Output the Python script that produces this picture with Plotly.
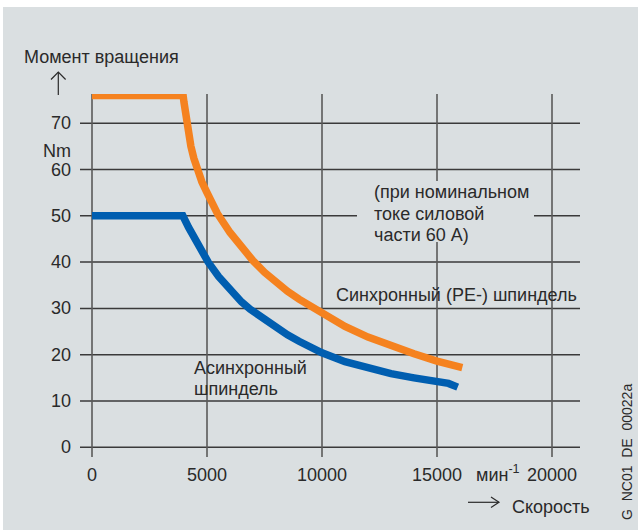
import plotly.graph_objects as go

# ---- data ----
sync_speed = [0, 3960, 4000, 4050, 4100, 4200, 4300, 4430, 4565, 4780, 5000, 5450, 6000,
              6500, 7000, 7500, 8000, 8500, 9000, 9500, 10000, 11000, 12000, 13000,
              14000, 15000, 16100]
sync_torque = [76, 76, 74.5, 72.5, 70.5, 67.6, 65, 62.4, 60, 57.3, 55, 50.5, 46.4,
               43.2, 40.3, 37.8, 35.6, 33.7, 32, 30.5, 29.1, 26.1, 23.8, 21.9,
               20.2, 18.6, 17.2]
async_speed = [0, 3950, 4200, 4500, 4800, 5050, 5500, 6000, 6500, 6880, 7500, 8000,
               8500, 9000, 9500, 10000, 11000, 12000, 13000, 14000, 15000, 15500, 15900]
async_torque = [50, 50, 47.5, 44.6, 42, 40, 36.9, 33.9, 31.4, 29.8, 27.6, 25.9,
                24.3, 22.9, 21.6, 20.4, 18.5, 17.0, 15.9, 15.0, 14.3, 13.8, 13.0]
x_ticks = [0, 5000, 10000, 15000, 20000]
x_tick_labels = ["0", "5000", "10000", "15000", "20000"]
y_ticks = [0, 10, 20, 30, 40, 50, 60, 70]
y_tick_labels = ["0", "10", "20", "30", "40", "50", "60", "70"]

ORANGE = "#f5821f"
BLUE = "#005eb0"
BG = "#dadfe1"
TXT = "#2a2a2a"
FONT = "Liberation Sans, Arial, sans-serif"

# plot area in pixels: x 80..580, y 94..457
L, R, T, B = 80, 580, 94, 457
W, H = R - L, B - T

def px(x):
    return (x - L) / W

def py(y):
    return (B - y) / H

fig = go.Figure()
fig.add_trace(go.Scatter(x=sync_speed, y=sync_torque, mode="lines",
                         line=dict(color=ORANGE, width=7.5), hoverinfo="skip"))
fig.add_trace(go.Scatter(x=async_speed, y=async_torque, mode="lines",
                         line=dict(color=BLUE, width=7.5), hoverinfo="skip"))

shapes = []
# white frame strips
shapes.append(dict(type="rect", xref="paper", yref="paper", x0=px(-5), x1=px(645),
                   y0=py(7), y1=py(-5), fillcolor="white", line=dict(width=0), layer="below"))
shapes.append(dict(type="rect", xref="paper", yref="paper", x0=px(-5), x1=px(3),
                   y0=py(535), y1=py(-5), fillcolor="white", line=dict(width=0), layer="below"))
# horizontal grid
for v in y_ticks:
    shapes.append(dict(type="line", xref="paper", yref="y", x0=0, x1=1, y0=v, y1=v,
                       line=dict(color="#3a3a3a", width=1.5), layer="below"))
# vertical grid
for v in x_ticks:
    shapes.append(dict(type="line", xref="x", yref="paper", x0=v, x1=v, y0=0, y1=1,
                       line=dict(color="#5a5a5a", width=1.6), layer="below"))
# background box behind note
shapes.append(dict(type="rect", xref="paper", yref="paper", x0=px(357), x1=px(534),
                   y0=py(242), y1=py(181), fillcolor=BG, line=dict(width=0), layer="below"))
# up arrow
ac = "#2a2a2a"
shapes.append(dict(type="line", xref="paper", yref="paper", x0=px(58.3), x1=px(58.3),
                   y0=py(95), y1=py(72), line=dict(color=ac, width=1.2)))
shapes.append(dict(type="path", xref="paper", yref="paper",
                   path=f"M {px(51)} {py(79.5)} L {px(58.3)} {py(72)} L {px(65.6)} {py(79.5)}",
                   line=dict(color=ac, width=1.2)))
# right arrow
shapes.append(dict(type="line", xref="paper", yref="paper", x0=px(468), x1=px(499),
                   y0=py(502.3), y1=py(502.3), line=dict(color=ac, width=1.2)))
shapes.append(dict(type="path", xref="paper", yref="paper",
                   path=f"M {px(491)} {py(497)} L {px(499)} {py(502.3)} L {px(491)} {py(507.6)}",
                   line=dict(color=ac, width=1.2)))

ann = []
def txt(text, x, y, xanchor="left", size=18, xref="paper", yref="paper", **kw):
    ann.append(dict(text=text, x=x, y=y, xref=xref, yref=yref, xanchor=xanchor,
                    yanchor="middle", showarrow=False,
                    font=dict(family=FONT, size=size, color=TXT), **kw))

for v, lab in zip(x_ticks, x_tick_labels):
    txt(lab, v, py(475), xanchor="center", xref="x")
for v, lab in zip(y_ticks, y_tick_labels):
    txt(lab, px(73), v, xanchor="right", yref="y")

txt("Момент вращения", px(22), py(57))
txt("Nm", px(73), py(151), xanchor="right")
txt("мин<sup>-1</sup>", px(474), py(473))
txt("Скорость", px(510), py(507))
txt("(при номинальном", px(372), py(192))
txt("токе силовой", px(372), py(213.5))
txt("части 60 А)", px(372), py(235))
txt("Синхронный (PE-) шпиндель", px(334), py(295))
txt("Асинхронный", px(192), py(367.5))
txt("шпиндель", px(192), py(388.5))
txt("G\u00a0\u00a0NC01\u00a0\u00a0DE\u00a0\u00a000022a", px(627), py(452), xanchor="center",
    size=14, textangle=-90)

fig.update_layout(
    width=638, height=530,
    margin=dict(l=L, r=638 - R, t=T, b=530 - B, pad=0),
    paper_bgcolor=BG, plot_bgcolor=BG,
    showlegend=False,
    xaxis=dict(range=[(L - 92) / 0.023, (R - 92) / 0.023], showgrid=False, zeroline=False,
               showticklabels=False, showline=False, fixedrange=True),
    yaxis=dict(range=[-(B - 447.3) / 4.63, (447.3 - T) / 4.63], showgrid=False, zeroline=False,
               showticklabels=False, showline=False, fixedrange=True),
    shapes=shapes, annotations=ann,
)
fig.write_html("out.html", config={"displayModeBar": False},
               post_script="document.body.style.margin='0';document.body.style.overflow='hidden';")
